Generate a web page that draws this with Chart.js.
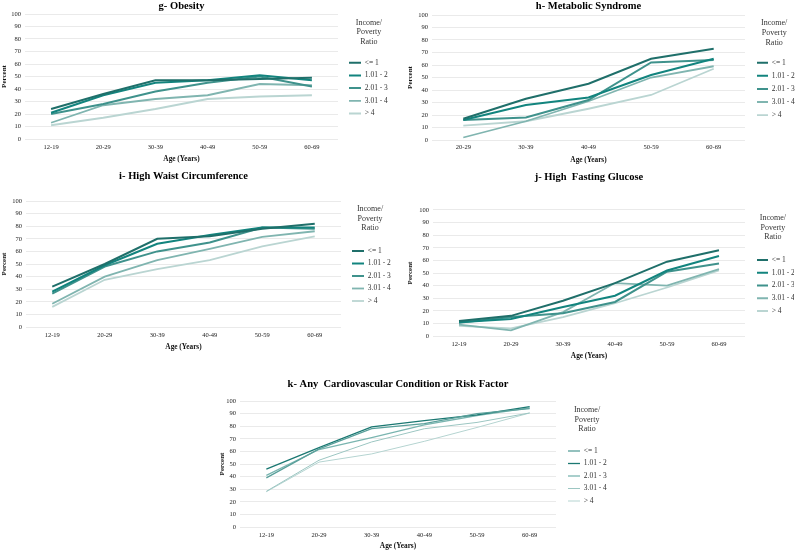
<!DOCTYPE html>
<html>
<head>
<meta charset="utf-8">
<script src="https://cdn.jsdelivr.net/npm/chart.js@4.4.1/dist/chart.umd.min.js"></script>
<style>
  html, body { margin: 0; padding: 0; background: #fff; width: 796px; height: 550px; overflow: hidden; position: relative; }
  canvas { position: absolute; }
</style>
</head>
<body>
<canvas id="obesityChart"></canvas>
<canvas id="metabolicChart"></canvas>
<canvas id="waistChart"></canvas>
<canvas id="glucoseChart"></canvas>
<canvas id="cardioChart"></canvas>
<script>
const ageGroups = ["12-19", "20-29", "30-39", "40-49", "50-59", "60-69"];
const adultAgeGroups = ["20-29", "30-39", "40-49", "50-59", "60-69"];
const incomeGroups = ["<= 1", "1.01 - 2", "2.01 - 3", "3.01 - 4", "> 4"];

// one row per income group, in the order of incomeGroups
const obesityPct = [
  [24, 36, 47, 47, 48, 49],
  [21, 35, 45, 47, 51, 47],
  [20, 28, 38, 45, 50, 42],
  [13, 27, 32, 35, 44, 43],
  [11, 17, 24, 32, 34, 35]
];
const metabolicPct = [
  [17, 33, 45, 65, 73],
  [16, 28, 34, 52, 65],
  [16, 18, 32, 62, 64],
  [2, 15, 31, 50, 59],
  [11.5, 15, 25, 36, 57]
];
const waistPct = [
  [32, 50, 70, 72, 78, 82],
  [28, 49, 66, 73, 79, 79],
  [26.5, 48, 60, 67, 79, 78],
  [18.5, 40, 53, 62, 71.5, 76],
  [16, 37.5, 46, 53, 64, 72]
];
const glucosePct = [
  [12, 16, 28, 42, 59, 68],
  [11, 13.5, 23, 32, 52, 63.5],
  [10.5, 15, 18, 27, 51, 57.5],
  [9, 4.5, 19, 42, 40, 53],
  [8, 6, 15, 26, 38.5, 52]
];
const cardioPct = [
  [39, 62, 78, 82, 90, 94],
  [46, 63, 79.5, 84.5, 89, 95.5],
  [41, 61.5, 71, 81, 88.5, 94.5],
  [28.3, 53, 67.5, 78, 83, 90.5],
  [28, 51.5, 58, 68, 79, 90.5]
];

const serif = "'Liberation Serif', 'Times New Roman', serif";
const tealShades = ["#1f6f6a", "#12847e", "#3f928c", "#80b5b0", "#bad5d2"];
const cardioShades = ["#5aa09b", "#1b7872", "#7ab5b0", "#9cc6c2", "#b5d4d1"];

function drawPanel(id, box, title, labels, rows, shades, widths) {
  const cv = document.getElementById(id);
  const legPad = box.legGap - 7.5;
  const legX = box.lineX - legPad;
  const w = Math.round(2 * box.legC - legX);
  cv.width = w;
  cv.height = box.h;
  cv.style.left = box.x + "px";
  cv.style.top = box.y + "px";
  const titleLh = 10.5 * 1.2;
  const legTop = box.legT - 4;

  new Chart(cv, {
    type: "line",
    data: {
      labels: labels,
      datasets: rows.map((vals, i) => ({
        label: incomeGroups[i],
        data: vals,
        borderColor: shades[i],
        backgroundColor: shades[i],
        borderWidth: widths[i],
        pointRadius: 0,
        tension: 0,
        fill: false
      }))
    },
    options: {
      responsive: false,
      animation: false,
      layout: { padding: 0 },
      scales: {
        x: {
          offset: true,
          grid: { display: false, drawTicks: false },
          border: { display: false },
          ticks: {
            color: "#222",
            font: { family: serif, size: 6.5 },
            padding: box.xLab - box.b - 3.9,
            maxRotation: 0,
            autoSkip: false
          },
          title: {
            display: true,
            text: "Age (Years)",
            color: "#111",
            font: { family: serif, size: 7.3, weight: "bold" },
            padding: { top: 0, bottom: Math.max(0, box.h - box.xTit - 4.4) }
          },
          afterFit: s => { s.height = box.h - box.b; }
        },
        y: {
          min: 0,
          max: 100,
          ticks: { stepSize: 10, color: "#222", font: { family: serif, size: 6.5 }, padding: 4 },
          grid: { color: "#e4e4e4", lineWidth: 0.8, drawTicks: false },
          border: { display: false },
          title: {
            display: true,
            text: "Percent",
            color: "#111",
            font: { family: serif, size: 7, weight: "bold" },
            padding: { top: 0, bottom: 0 }
          },
          afterFit: s => { s.width = box.l; }
        },
        gap: {
          type: "linear",
          position: "right",
          grid: { display: false },
          border: { display: false },
          ticks: { display: false },
          afterFit: s => { s.width = legX - box.r; }
        }
      },
      plugins: {
        title: {
          display: true,
          text: title,
          fullSize: false,
          color: "#000",
          font: { family: serif, size: 10.5, weight: "bold" },
          padding: {
            top: Math.max(0, box.titY - titleLh / 2),
            bottom: box.t - Math.max(0, box.titY - titleLh / 2) - titleLh
          }
        },
        legend: {
          position: "right",
          align: "start",
          maxWidth: w - legX,
          title: {
            display: true,
            text: ["Income/", "Poverty", "Ratio"],
            color: "#333",
            font: { family: serif, size: 8, lineHeight: 1.2 },
            padding: { top: legTop, bottom: box.legI - legPad - 3.75 - 9.6 - legTop }
          },
          labels: {
            usePointStyle: true,
            pointStyle: "line",
            pointStyleWidth: box.keyW,
            color: "#333",
            font: { family: serif, size: 7.5 },
            padding: legPad
          }
        },
        tooltip: { enabled: false }
      }
    }
  });
}

const thick = [2, 2, 2, 1.8, 1.8];
const thin = [1.3, 1.3, 1.3, 1, 1];

drawPanel("obesityChart",
  { x: 0, y: 0, h: 164, l: 25, r: 338, t: 14, b: 139, titY: 6.3, xLab: 147, xTit: 159, lineX: 349, keyW: 12, legC: 369, legT: 22.5, legI: 62.7, legGap: 12.7 },
  "g- Obesity", ageGroups, obesityPct, tealShades, thick);

drawPanel("metabolicChart",
  { x: 406, y: 0, h: 164, l: 26, r: 339, t: 15, b: 140, titY: 5.5, xLab: 147.7, xTit: 160, lineX: 351, keyW: 11, legC: 368, legT: 23.3, legI: 62.7, legGap: 13.1 },
  "h- Metabolic Syndrome", adultAgeGroups, metabolicPct, tealShades, thick);

drawPanel("waistChart",
  { x: 0, y: 170, h: 183, l: 26, r: 341, t: 31, b: 157, titY: 6, xLab: 165, xTit: 177, lineX: 352, keyW: 12, legC: 370, legT: 39, legI: 81, legGap: 12.5 },
  "i- High Waist Circumference", ageGroups, waistPct, tealShades, thick);

drawPanel("glucoseChart",
  { x: 406, y: 170, h: 192, l: 27, r: 339, t: 40, b: 166, titY: 7, xLab: 174, xTit: 186, lineX: 351, keyW: 11, legC: 367, legT: 48, legI: 90, legGap: 12.75 },
  "j- High  Fasting Glucose", ageGroups, glucosePct, tealShades, thick);

drawPanel("cardioChart",
  { x: 218, y: 378, h: 172, l: 22, r: 338, t: 23, b: 149, titY: 6, xLab: 157, xTit: 169, lineX: 350, keyW: 12, legC: 369, legT: 32, legI: 73, legGap: 12.5 },
  "k- Any  Cardiovascular Condition or Risk Factor", ageGroups, cardioPct, cardioShades, thin);
</script>
</body>
</html>
